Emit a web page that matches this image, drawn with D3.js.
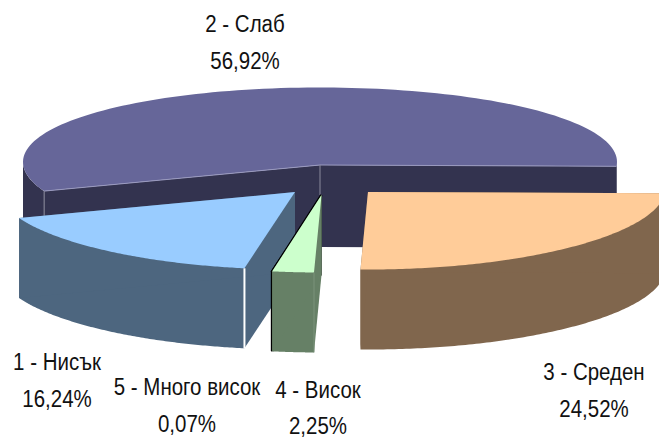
<!DOCTYPE html>
<html lang="bg">
<head>
    <meta charset="UTF-8">
    <title>Pie</title>
    <script src="https://d3js.org/d3.v7.min.js"></script>
    <style>
        html, body { margin: 0; padding: 0; background: #fff; overflow: hidden; }
        svg { display: block; }
        .label { font-family: 'Liberation Sans', Arial, sans-serif; font-size: 23px; fill: #111; text-anchor: middle; }
    </style>
</head>
<body>
    <svg width="659" height="439"></svg>
    <script>
        const categories = ["1 - Нисък", "2 - Слаб", "3 - Среден", "4 - Висок", "5 - Много висок"];
        const shares = [16.24, 56.92, 24.52, 2.25, 0.07];

        const topColors = ["#99ccff", "#666699", "#ffcc99", "#ccffcc", "#000000"];
        const sideColors = ["#4d667f", "#33334f", "#80664d", "#668066", "#000000"];

        // how far each slice is pulled out of the middle
        const offsets = [[-25, 27], [0, 0], [48, 27], [1.5, 30], [1.5, 30]];
        const depths = [80, 82, 80, 80, 80];
        const labelPos = [[57, 370], [245, 32], [594, 380], [318, 397.5], [187, 395]];

        const svg = d3.select("svg");
        const cx = 320, cy = 165, rx = 297, ry = 77.5;
        const lineGap = 36.5;
        const sideLift = 3;   // the sides of the face sit a bit above the apex

        const pie = d3.pie().value(function(d) { return d; }).sort(null)
            .startAngle(189.8 * Math.PI / 180)
            .endAngle((189.8 + 360) * Math.PI / 180);
        const arcs = pie(shares);

        const xScale = d3.scaleLinear().domain([-1, 1]).range([cx - rx, cx + rx]);
        const yScale = d3.scaleLinear().domain([-1, 1]).range([cy - ry, cy + ry]);

        // pie angle (0 = north, clockwise) onto the tilted top face
        function rim(a, off, drop) {
            const s = Math.sin(a);
            return [xScale(s) + off[0], yScale(-Math.cos(a)) - sideLift * s * s + off[1] + (drop || 0)];
        }
        function apex(off, drop) {
            return [cx + off[0], cy + off[1] + (drop || 0)];
        }
        function rimPoints(a0, a1, off, drop) {
            return d3.range(0, 121).map(function(i) {
                return rim(a0 + (a1 - a0) * i / 120, off, drop);
            });
        }
        const line = d3.line();

        // only the front half of the outer wall can be seen
        function outerWall(d, off, depth) {
            const lo = Math.PI / 2, hi = 3 * Math.PI / 2;
            const a0 = Math.max(d.startAngle, lo), a1 = Math.min(d.endAngle, hi);
            const walls = [];
            if (a1 > a0) walls.push([a0, a1]);
            const b0 = Math.max(d.startAngle, lo + 2 * Math.PI), b1 = Math.min(d.endAngle, hi + 2 * Math.PI);
            if (b1 > b0) walls.push([b0, b1]);
            return walls.map(function(w) {
                return rimPoints(w[0], w[1], off, 0).concat(rimPoints(w[1], w[0], off, depth));
            });
        }
        function cutWall(a, off, depth) {
            return [apex(off), rim(a, off), rim(a, off, depth), apex(off, depth)];
        }

        const drawOrder = [1, 2, 0, 4, 3];
        drawOrder.forEach(function(i) {
            const d = arcs[i], off = offsets[i], depth = depths[i];
            const g = svg.append("g");
            const side = sideColors[i];

            outerWall(d, off, depth).forEach(function(p) {
                g.append("path").attr("d", line(p) + "Z").attr("fill", side);
            });
            g.append("path").attr("d", line(cutWall(d.startAngle, off, depth)) + "Z").attr("fill", side);
            g.append("path").attr("d", line(cutWall(d.endAngle, off, depth)) + "Z").attr("fill", side);

            const top = [apex(off)].concat(rimPoints(d.startAngle, d.endAngle, off, 0));
            g.append("path").attr("d", line(top) + "Z").attr("fill", topColors[i]);

            if (i === 1) {
                // pale seams on the big slice
                [d.startAngle, d.endAngle].forEach(function(a) {
                    g.append("path").attr("d", line([apex(off), rim(a, off)]))
                        .attr("fill", "none").attr("stroke", "#9a9abf").attr("stroke-width", 1);
                });
                g.append("path").attr("d", line([apex(off), apex(off, 30)]))
                    .attr("stroke", "#8a8a9c").attr("stroke-width", 1);
                const s = rim(d.startAngle, off);
                g.append("path").attr("d", line([s, [s[0], s[1] + 26]]))
                    .attr("stroke", "#8a8a9c").attr("stroke-width", 1);
            }
            if (i === 0) {
                const e = rim(d.startAngle, off);
                g.append("path").attr("d", line([e, [e[0], e[1] + depth]]))
                    .attr("stroke", "#fff").attr("stroke-width", 2);
            }
            if (i === 4) {
                const p = rim(d.startAngle, off);
                g.append("path").attr("d", line([apex(off), p, [p[0], p[1] + depth]]))
                    .attr("fill", "none").attr("stroke", "#000").attr("stroke-width", 2.6);
            }
            if (i === 3) {
                const q = rim(d.startAngle, off);
                g.append("path").attr("d", line([q, [q[0], q[1] + depth]]))
                    .attr("stroke", "#7b937b").attr("stroke-width", 1);
            }
        });

        function addLabel(x, y, txt) {
            svg.append("text").attr("class", "label")
                .attr("transform", "translate(" + x + "," + y + ") scale(0.89,1)")
                .text(txt);
        }
        categories.forEach(function(name, i) {
            addLabel(labelPos[i][0], labelPos[i][1], name);
            addLabel(labelPos[i][0], labelPos[i][1] + lineGap, shares[i].toFixed(2).replace(".", ",") + "%");
        });
    </script>
</body>
</html>
